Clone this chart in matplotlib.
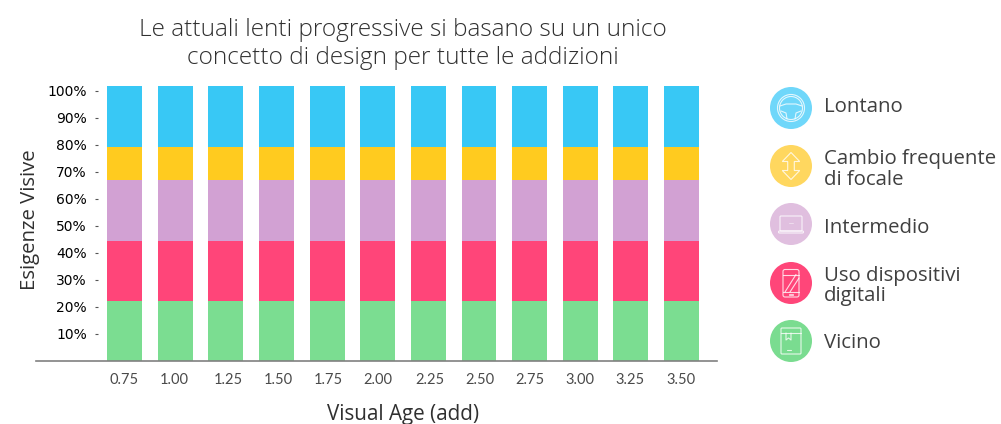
import matplotlib
matplotlib.use('Agg')
import matplotlib.pyplot as plt
from matplotlib.patches import Circle, Polygon, FancyBboxPatch, Rectangle

additions = ['0.75', '1.00', '1.25', '1.50', '1.75', '2.00', '2.25', '2.50', '2.75', '3.00', '3.25', '3.50']
label_pos = [0.0, 0.98, 2.04, 3.03, 4.02, 5.0, 6.03, 7.02, 8.0, 8.99, 9.98, 10.99]

vicino = [22.2] * 12
digitali = [22.2] * 12
intermedio = [22.6] * 12
focale = [12.2] * 12
lontano = [22.6] * 12

series_names = ['Vicino', 'Uso dispositivi\ndigitali', 'Intermedio', 'Cambio frequente\ndi focale', 'Lontano']
series_values = [vicino, digitali, intermedio, focale, lontano]
bar_colors = ['#7bdd91', '#ff4579', '#d2a1d3', '#ffcb1f', '#38c8f5']
icon_colors = ['#7adc90', '#ff4679', '#e0bfdf', '#ffd75f', '#6fd7fa']

y_ticks = [10, 20, 30, 40, 50, 60, 70, 80, 90, 100]

text_color = '#4a4a4a'
W, H = 1001, 424

fig = plt.figure(figsize=(W / 100, H / 100), dpi=100)
ax = fig.add_axes([36 / W, 1 - 361 / H, 681 / W, 281 / H])

bottom = [0] * 12
x = list(range(12))
for vals, c in zip(series_values, bar_colors):
    ax.bar(x, vals, bottom=bottom, width=0.69, color=c)
    bottom = [b + v for b, v in zip(bottom, vals)]

ax.set_xlim(-1.748, 11.70)
ax.set_ylim(0, 104.07)
ax.set_xticks(label_pos)
ax.set_xticklabels(additions, family='Lato', fontsize=10.5, color=text_color)
ax.set_yticks(y_ticks)
ax.set_yticklabels([f'{t}%' for t in y_ticks], family='Lato', fontsize=11, color=text_color, va='center_baseline')
ax.tick_params(axis='x', length=0, pad=9)
ax.tick_params(axis='y', length=2.2, width=0.8, color='#555555', pad=5.5)

for s in ['top', 'right']:
    ax.spines[s].set_visible(False)
ax.spines['left'].set_position(('data', -0.53))
ax.spines['left'].set_visible(False)
ax.spines['bottom'].set_color('#808080')
ax.spines['bottom'].set_linewidth(1.2)

# everything outside the plot goes in pixel coordinates
ov = fig.add_axes([0, 0, 1, 1], facecolor='none')
ov.set_xlim(0, W)
ov.set_ylim(H, 0)
ov.axis('off')

ov.text(403, 29.5, 'Le attuali lenti progressive si basano su un unico', ha='center', va='center',
        family='Open Sans', fontsize=17.6, weight='light', color='#303030')
ov.text(403, 58.5, 'concetto di design per tutte le addizioni', ha='center', va='center',
        family='Open Sans', fontsize=17.6, weight='light', color='#303030')
ov.text(403, 414.5, 'Visual Age (add)', ha='center', va='center', family='Open Sans', fontsize=14.9, color='#303030')
ov.text(30, 220, 'Esigenze Visive', ha='center', va='center', rotation=90, family='Open Sans',
        fontsize=14.7, color='#303030')

icon_y = [341, 283, 224, 166, 108]
icon_x = 791
lw = 0.8
icon_line = (1, 1, 1, 0.8)
for yc, c in zip(icon_y, icon_colors):
    ov.add_patch(Circle((icon_x, yc), 21, fc=c, ec='none'))

line = dict(color=icon_line, lw=lw, solid_capstyle='round')


def rrect(x0, y0, w, h, r=1.5):
    ov.add_patch(FancyBboxPatch((x0, y0), w, h, boxstyle=f'round,pad=0,rounding_size={r}',
                                fc='none', ec=icon_line, lw=lw))


# lontano: steering wheel
cx, cy = icon_x, 108
ov.add_patch(Circle((cx, cy), 13.5, fc='none', ec=icon_line, lw=lw))
ov.add_patch(Circle((cx, cy), 11.5, fc='none', ec=icon_line, lw=lw))
ov.plot([cx - 11, cx - 5, cx + 5, cx + 11], [cy - 2, cy - 4, cy - 4, cy - 2], **line)
ov.plot([cx - 10, cx - 5, cx - 4], [cy + 3, cy + 5, cy + 11], **line)
ov.plot([cx + 10, cx + 5, cx + 4], [cy + 3, cy + 5, cy + 11], **line)

# focale: double arrow
cx, cy = icon_x, 166
ov.add_patch(Polygon([(cx, cy - 13.5), (cx + 8.7, cy - 4.5), (cx + 3.3, cy - 4.5), (cx + 3.3, cy + 4.5),
                      (cx + 8.7, cy + 4.5), (cx, cy + 13.5), (cx - 8.7, cy + 4.5), (cx - 3.3, cy + 4.5),
                      (cx - 3.3, cy - 4.5), (cx - 8.7, cy - 4.5)], closed=True, fc='none', ec=icon_line, lw=lw))

# intermedio: laptop
cx, cy = icon_x, 224
rrect(cx - 11, cy - 8, 22, 15, 1)
rrect(cx - 12.5, cy + 7, 25, 2, 1)
ov.plot([cx - 2, cx + 2], [cy - 1, cy - 1], color=icon_line, lw=0.4)

# digitali: phone
cx, cy = icon_x, 283
rrect(cx - 8, cy - 13.5, 16, 27.5, 2)
ov.plot([cx - 8, cx + 8], [cy - 8.5, cy - 8.5], **line)
ov.plot([cx - 8, cx + 8], [cy + 9, cy + 9], **line)
ov.plot([cx - 6, cx + 5], [cy + 9, cy - 8.5], **line)
ov.plot([cx - 1, cx + 8], [cy + 9, cy - 5], **line)
ov.add_patch(Rectangle((cx - 2, cy + 10.5), 4, 1.5, fc='none', ec=icon_line, lw=0.6))

# vicino: book with bookmark
cx, cy = icon_x, 341
rrect(cx - 10, cy - 13, 20, 26, 1)
ov.plot([cx - 10, cx + 10], [cy - 8, cy - 8], **line)
ov.plot([cx - 5, cx - 5, cx - 2.5, cx, cx], [cy - 8, cy - 1, cy - 3, cy - 1, cy - 8], **line)
ov.plot([cx - 4, cx], [cy + 9, cy + 9], **line)

# legend texts
legend_y = [343, 286, 228, 169.5, 107]
for yc, name in zip(legend_y, series_names):
    ov.text(824, yc, name, ha='left', va='center', family='Open Sans', fontsize=14.7, color='#404040',
            linespacing=1.05)

fig.savefig('out.png', dpi=100)
